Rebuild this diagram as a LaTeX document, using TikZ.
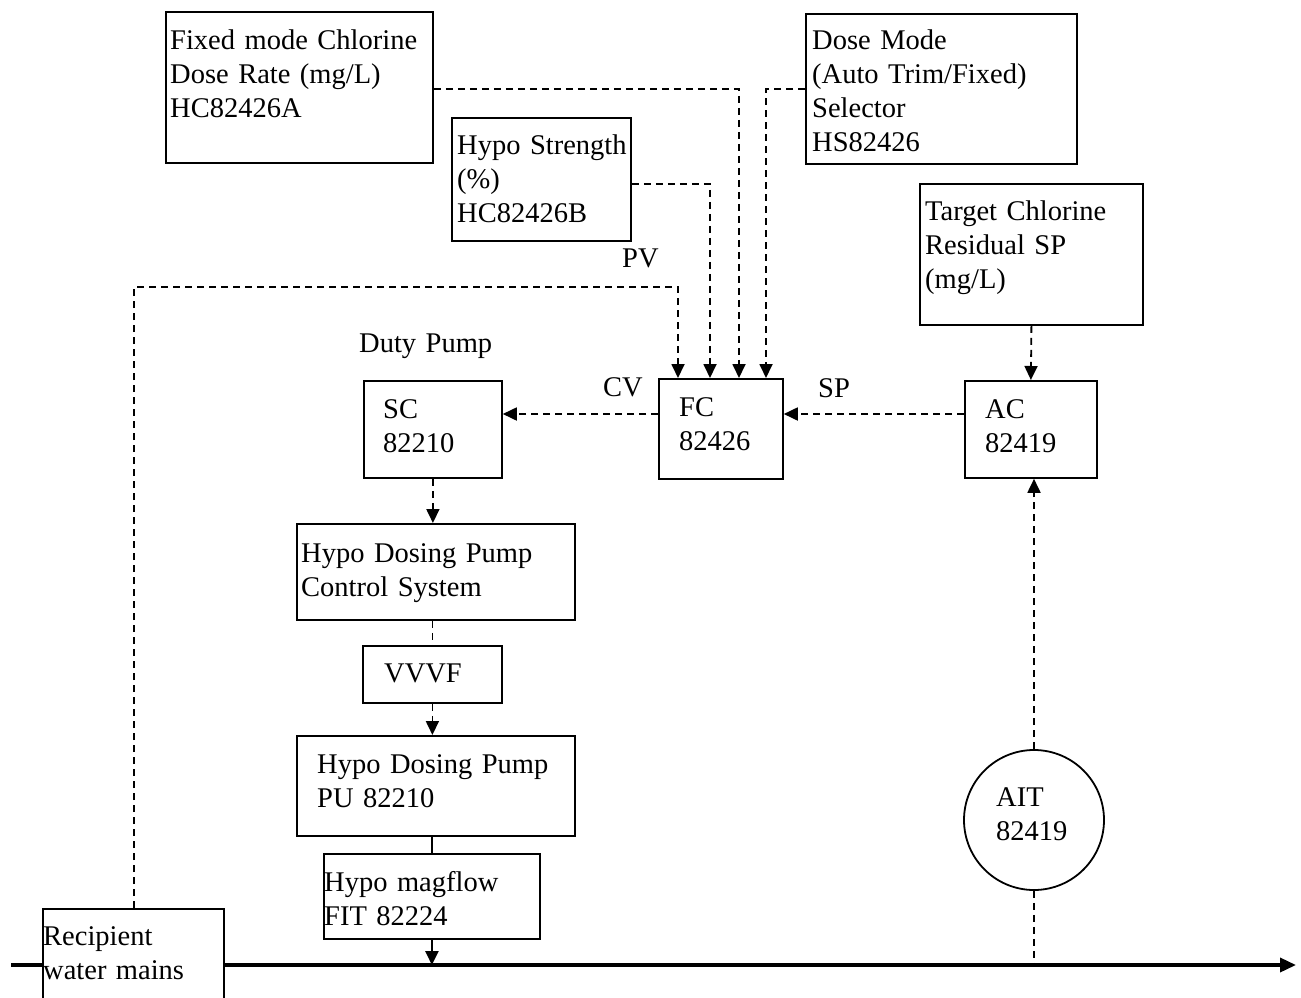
\documentclass[tikz,border=0pt]{standalone}
\usepackage{fontspec}
\setmainfont{Liberation Serif}
\usetikzlibrary{arrows.meta,calc}
\begin{document}
\begin{tikzpicture}[x=1pt,y=-1pt,
  box/.style={draw,line width=1.8pt,fill=white,inner sep=0pt,anchor=north west},
  txt/.style={anchor=base west,inner sep=0pt,text width=300pt,align=left,
    font=\fontsize{28.5}{34}\selectfont},
  sig/.style={line width=1.8pt,dash pattern=on 7pt off 5pt,-{Triangle[length=14pt,width=13pt]}},
  sigline/.style={line width=1.8pt,dash pattern=on 7pt off 5pt},
  solidarrow/.style={line width=2.4pt,-{Triangle[length=14pt,width=13pt]}},
  mainline/.style={line width=3.5pt,-{Triangle[length=16pt,width=14pt]}}]
\useasboundingbox (0,0) rectangle (1301,998);
\clip (0,0) rectangle (1301,998);
\coordinate (mainL) at (11,965);
\coordinate (mainR) at (1296,965);
\draw[mainline] (mainL) -- (mainR);
% boxes
\node[box,minimum width=267pt,minimum height=151pt] (fix) at (165,11) {};
\node[box,minimum width=179pt,minimum height=123pt] (hs) at (451,117) {};
\node[box,minimum width=271pt,minimum height=150pt] (dose) at (805,13) {};
\node[box,minimum width=223pt,minimum height=141pt] (tgt) at (919,183) {};
\node[box,minimum width=124pt,minimum height=100pt] (fc) at (658,378) {};
\node[box,minimum width=138pt,minimum height=97pt] (sc) at (363,380) {};
\node[box,minimum width=132pt,minimum height=97pt] (ac) at (964,380) {};
\node[box,minimum width=278pt,minimum height=96pt] (ctl) at (296,523) {};
\node[box,minimum width=139pt,minimum height=57pt] (vvvf) at (362,645) {};
\node[box,minimum width=278pt,minimum height=100pt] (pu) at (296,735) {};
\node[box,minimum width=216pt,minimum height=85pt] (mag) at (323,853) {};
\node[box,minimum width=181pt,minimum height=110pt] (rec) at (42,908) {};
\node[draw,line width=1.8pt,fill=white,circle,minimum size=140pt,inner sep=0pt] (ait) at (1034,820) {};
% texts
\node[txt] (fixT) at (170,50) {Fixed mode Chlorine\\Dose Rate (mg/L)\\HC82426A};
\node[txt] (hsT) at (457,154) {Hypo Strength\\(\%)\\HC82426B};
\node[txt] (doseT) at (812,49) {Dose Mode\\(Auto Trim/Fixed)\\Selector\\HS82426};
\node[txt] (tgtT) at (925,220) {Target Chlorine\\Residual SP\\(mg/L)};
\node[txt] (scT) at (383,418) {SC\\82210};
\node[txt] (fcT) at (679,416) {FC\\82426};
\node[txt] (acT) at (985,418) {AC\\82419};
\node[txt] (ctlT) at (301,562) {Hypo Dosing Pump\\Control System};
\node[txt] (vvvfT) at (384,682) {VVVF};
\node[txt] (puT) at (317,773) {Hypo Dosing Pump\\PU 82210};
\node[txt] (magT) at (324,891) {Hypo magflow\\FIT 82224};
\node[txt] (aitT) at (996,806) {AIT\\82419};
\node[txt] (recT) at (43,945) {Recipient\\water mains};
\node[txt] (pvL) at (622,267) {PV};
\node[txt] (dutyL) at (359,352) {Duty Pump};
\node[txt] (cvL) at (603,396) {CV};
\node[txt] (spL) at (818,397) {SP};
% FC inputs
\coordinate (fcA) at ($(fc.north west)+(20,0)$);
\coordinate (fcB) at ($(fc.north west)+(52,0)$);
\coordinate (fcC) at ($(fc.north west)+(81,0)$);
\coordinate (fcD) at ($(fc.north west)+(108,0)$);
\coordinate (recTop) at ($(rec.north west)+(92,0)$);
\coordinate (pvCorner) at ($(fcA)+(0,-91)$);
\draw[sig] ($(fix.north east)+(0,78)$) -| (fcC);
\draw[sig] ($(hs.north east)+(0,67)$) -| (fcB);
\draw[sig] ($(dose.north west)+(0,76)$) -| (fcD);
\draw[sig] (recTop) |- (pvCorner) -- (fcA);
% horizontal signals
\draw[sig] ($(fc.north west)+(0,36)$) -- ($(sc.north east)+(0,34)$);
\draw[sig] ($(ac.north west)+(0,34)$) -- ($(fc.north east)+(0,36)$);
% AC
\draw[sig] (tgt.south) -- (ac.north);
\draw[sig] (ait.north) -- (ait.north |- ac.south);
\draw[sigline] (ait.south) -- (ait.south |- mainL);
% pump chain
\draw[sig] (sc.south) -- (sc.south |- ctl.north);
\draw[sigline] (ctl.south -| vvvf.north) -- (vvvf.north);
\draw[sig] (vvvf.south) -- (vvvf.south |- pu.north);
\draw[line width=2.8pt] (pu.south -| mag.north) -- (mag.north);
\draw[solidarrow] (mag.south) -- (mag.south |- mainL);
\end{tikzpicture}
\end{document}
